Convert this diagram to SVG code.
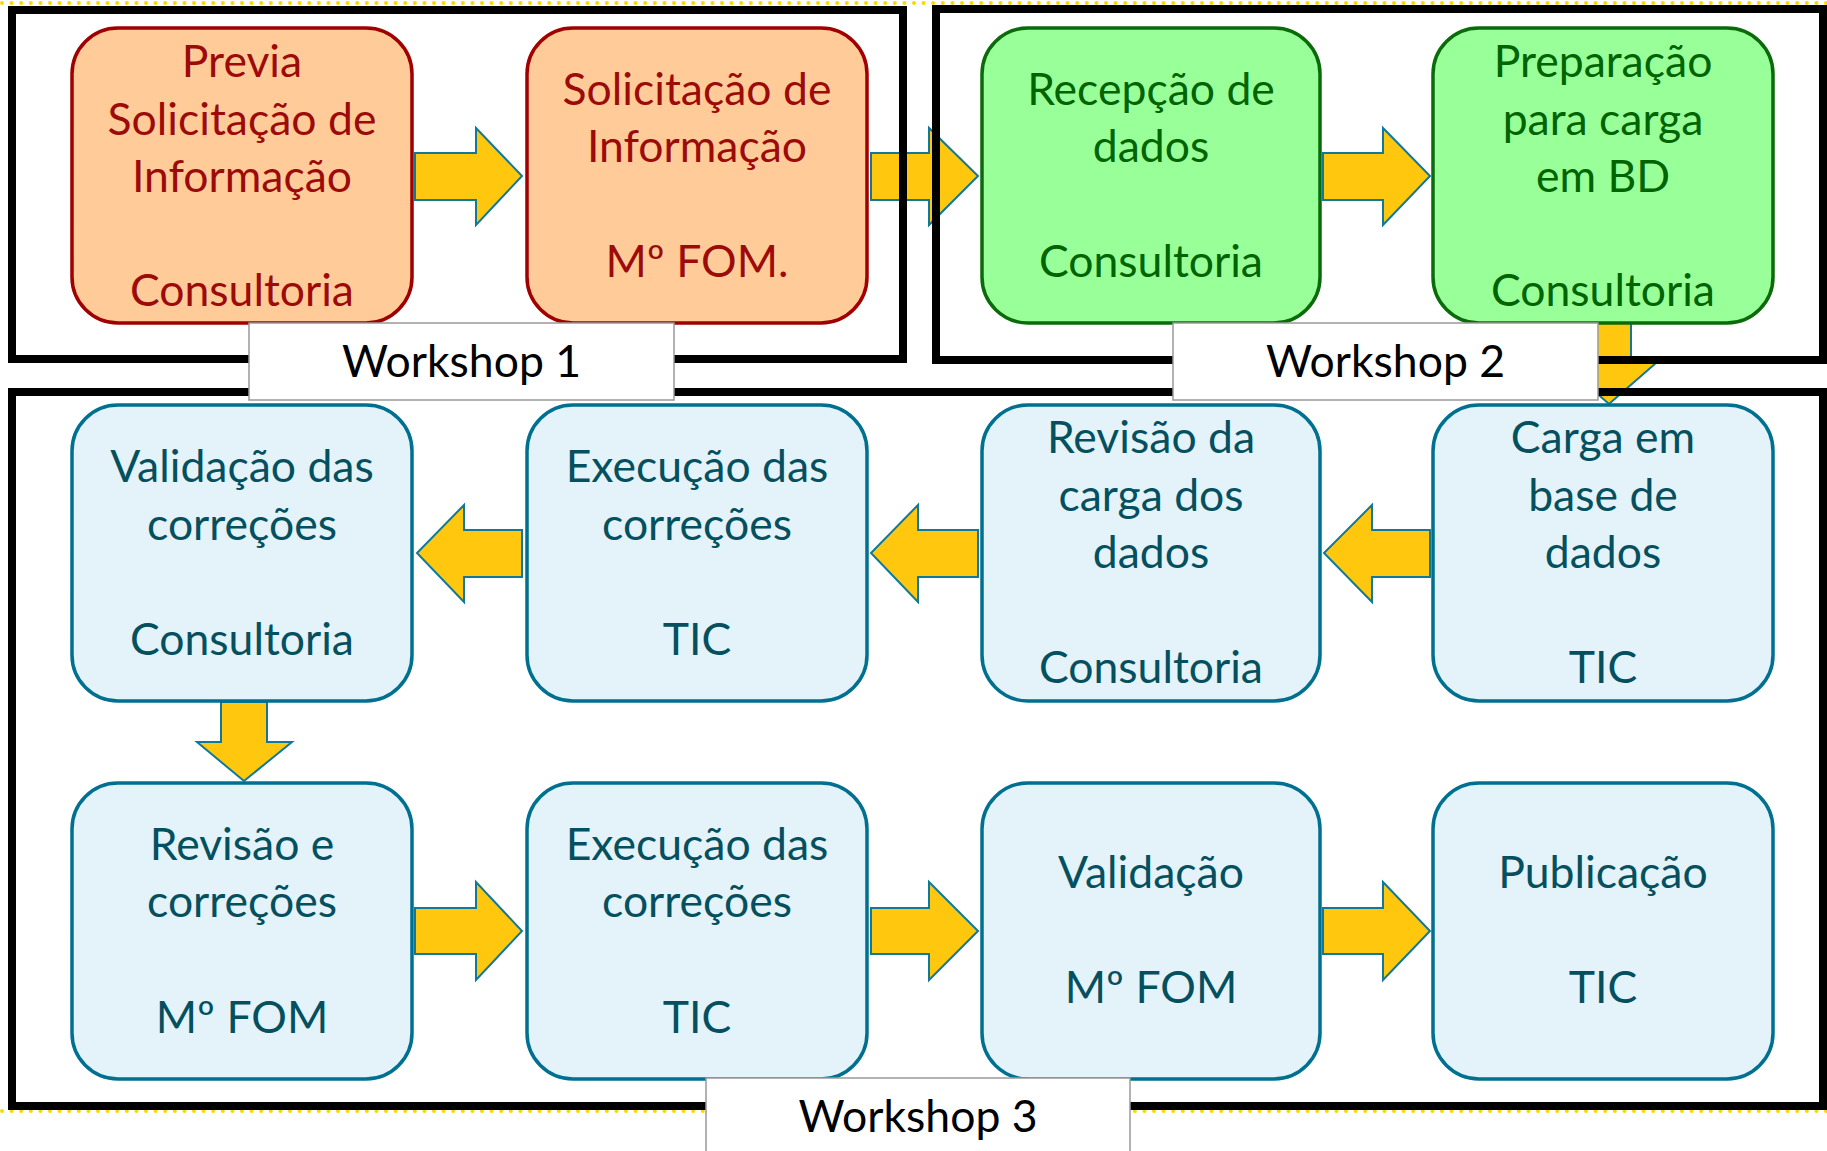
<svg xmlns="http://www.w3.org/2000/svg" width="1827" height="1151" viewBox="0 0 1827 1151">
<style>
text{font-family:Lato,"Open Sans","Liberation Sans",sans-serif;font-size:44.5px;text-anchor:middle}
.orange rect{fill:#FFCC99;stroke:#A00000;stroke-width:3.5}
.orange text{fill:#9C0A0A}
.green rect{fill:#99FF99;stroke:#0B6B0B;stroke-width:3.5}
.green text{fill:#006400}
.blue rect{fill:#E4F3F9;stroke:#007090;stroke-width:3.5}
.blue text{fill:#05505F}
.arr{fill:#FFC80F;stroke:#10799A;stroke-width:2;stroke-linejoin:miter}
.frame{fill:none;stroke:#000;stroke-width:8}
.lbl rect{fill:#fff;stroke:#999;stroke-width:1.5}
.lbl text{fill:#000}
.dots{stroke:#FFD700;stroke-width:4;stroke-dasharray:0 9.6;stroke-linecap:round}
</style>
<rect x="0" y="0" width="1827" height="1151" fill="#fff"/>
<line class="dots" x1="2" y1="3" x2="1827" y2="3"/>
<line class="dots" x1="2" y1="1111" x2="1827" y2="1111"/>
<g id="connectors">
<polygon class="arr" points="415,153 476,153 476,128 522,176 476,225 476,200 415,200"/>
<polygon class="arr" points="871,153 929,153 929,128 978,176 929,225 929,200 871,200"/>
<polygon class="arr" points="1323,153 1383,153 1383,128 1430,176 1383,225 1383,200 1323,200"/>
<polygon class="arr" points="1586,323 1631,323 1631,363 1656,363 1609,404 1562,363 1586,363"/>
<polygon class="arr" points="1430,530 1372,530 1372,505 1324,553 1372,602 1372,577 1430,577"/>
<polygon class="arr" points="978,530 918,530 918,505 871,553 918,602 918,577 978,577"/>
<polygon class="arr" points="522,530 464,530 464,505 417,553 464,602 464,577 522,577"/>
<polygon class="arr" points="221,702 267,702 267,742 292,742 244,781 197,742 221,742"/>
<polygon class="arr" points="415,908 476,908 476,882 522,931 476,980 476,954 415,954"/>
<polygon class="arr" points="871,908 929,908 929,882 978,931 929,980 929,954 871,954"/>
<polygon class="arr" points="1323,908 1383,908 1383,882 1430,931 1383,980 1383,954 1323,954"/>
</g>
<g id="n1" class="orange"><rect x="72" y="28" width="340" height="295" rx="46"/>
<text x="242" y="77">Previa</text><text x="242" y="135">Solicitação de</text><text x="242" y="192">Informação</text><text x="242" y="306">Consultoria</text></g>
<g id="n2" class="orange"><rect x="527" y="28" width="340" height="295" rx="46"/>
<text x="697" y="105">Solicitação de</text><text x="697" y="162">Informação</text><text x="697" y="277">Mº FOM.</text></g>
<g id="n3" class="green"><rect x="982" y="28" width="338" height="295" rx="46"/>
<text x="1151" y="105">Recepção de</text><text x="1151" y="162">dados</text><text x="1151" y="277">Consultoria</text></g>
<g id="n4" class="green"><rect x="1433" y="28" width="340" height="295" rx="46"/>
<text x="1603" y="77">Preparação</text><text x="1603" y="135">para carga</text><text x="1603" y="192">em BD</text><text x="1603" y="306">Consultoria</text></g>
<g id="n5" class="blue"><rect x="72" y="405" width="340" height="296" rx="46"/>
<text x="242" y="482">Validação das</text><text x="242" y="540">correções</text><text x="242" y="655">Consultoria</text></g>
<g id="n6" class="blue"><rect x="527" y="405" width="340" height="296" rx="46"/>
<text x="697" y="482">Execução das</text><text x="697" y="540">correções</text><text x="697" y="655">TIC</text></g>
<g id="n7" class="blue"><rect x="982" y="405" width="338" height="296" rx="46"/>
<text x="1151" y="453">Revisão da</text><text x="1151" y="511">carga dos</text><text x="1151" y="568">dados</text><text x="1151" y="683">Consultoria</text></g>
<g id="n8" class="blue"><rect x="1433" y="405" width="340" height="296" rx="46"/>
<text x="1603" y="453">Carga em</text><text x="1603" y="511">base de</text><text x="1603" y="568">dados</text><text x="1603" y="683">TIC</text></g>
<g id="n9" class="blue"><rect x="72" y="783" width="340" height="296" rx="46"/>
<text x="242" y="860">Revisão e</text><text x="242" y="917">correções</text><text x="242" y="1033">Mº FOM</text></g>
<g id="n10" class="blue"><rect x="527" y="783" width="340" height="296" rx="46"/>
<text x="697" y="860">Execução das</text><text x="697" y="917">correções</text><text x="697" y="1033">TIC</text></g>
<g id="n11" class="blue"><rect x="982" y="783" width="338" height="296" rx="46"/>
<text x="1151" y="888">Validação</text><text x="1151" y="1003">Mº FOM</text></g>
<g id="n12" class="blue"><rect x="1433" y="783" width="340" height="296" rx="46"/>
<text x="1603" y="888">Publicação</text><text x="1603" y="1003">TIC</text></g>
<g id="frames">
<rect class="frame" x="12" y="10" width="891" height="349"/>
<rect class="frame" x="936" y="9" width="887" height="351"/>
<rect class="frame" x="12" y="392" width="1811" height="714"/>
</g>
<g id="w1" class="lbl"><rect x="249" y="323" width="425" height="77"/><text x="461.5" y="377">Workshop 1</text></g>
<g id="w2" class="lbl"><rect x="1173" y="323" width="425" height="77"/><text x="1385.5" y="377">Workshop 2</text></g>
<g id="w3" class="lbl"><rect x="706" y="1078" width="424" height="80"/><text x="918" y="1132">Workshop 3</text></g>
</svg>
